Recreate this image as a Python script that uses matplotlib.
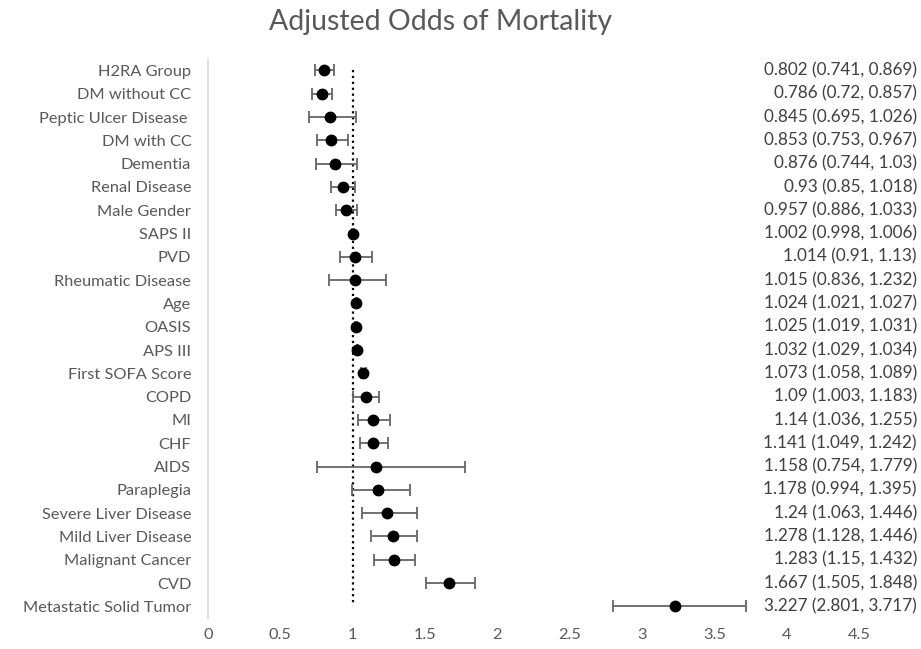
import matplotlib.pyplot as plt

# variaveis e odds ratios ajustados (IC 95%)
labels = ['H2RA Group', 'DM without CC', 'Peptic Ulcer Disease ', 'DM with CC', 'Dementia',
          'Renal Disease', 'Male Gender', 'SAPS II', 'PVD', 'Rheumatic Disease', 'Age',
          'OASIS', 'APS III', 'First SOFA Score', 'COPD', 'MI', 'CHF', 'AIDS', 'Paraplegia',
          'Severe Liver Disease', 'Mild Liver Disease', 'Malignant Cancer', 'CVD',
          'Metastatic Solid Tumor']
odds = [0.802, 0.786, 0.845, 0.853, 0.876, 0.93, 0.957, 1.002, 1.014, 1.015, 1.024,
        1.025, 1.032, 1.073, 1.09, 1.14, 1.141, 1.158, 1.178, 1.24, 1.278, 1.283,
        1.667, 3.227]
lower = [0.741, 0.72, 0.695, 0.753, 0.744, 0.85, 0.886, 0.998, 0.91, 0.836, 1.021,
         1.019, 1.029, 1.058, 1.003, 1.036, 1.049, 0.754, 0.994, 1.063, 1.128, 1.15,
         1.505, 2.801]
upper = [0.869, 0.857, 1.026, 0.967, 1.03, 1.018, 1.033, 1.006, 1.13, 1.232, 1.027,
         1.031, 1.034, 1.089, 1.183, 1.255, 1.242, 1.779, 1.395, 1.446, 1.446, 1.432,
         1.848, 3.717]
ci_text = ['0.802 (0.741, 0.869)', '0.786 (0.72, 0.857)', '0.845 (0.695, 1.026)',
           '0.853 (0.753, 0.967)', '0.876 (0.744, 1.03)', '0.93 (0.85, 1.018)',
           '0.957 (0.886, 1.033)', '1.002 (0.998, 1.006)', '1.014 (0.91, 1.13)',
           '1.015 (0.836, 1.232)', '1.024 (1.021, 1.027)', '1.025 (1.019, 1.031)',
           '1.032 (1.029, 1.034)', '1.073 (1.058, 1.089)', '1.09 (1.003, 1.183)',
           '1.14 (1.036, 1.255)', '1.141 (1.049, 1.242)', '1.158 (0.754, 1.779)',
           '1.178 (0.994, 1.395)', '1.24 (1.063, 1.446)', '1.278 (1.128, 1.446)',
           '1.283 (1.15, 1.432)', '1.667 (1.505, 1.848)', '3.227 (2.801, 3.717)']

plt.rcParams['font.family'] = ['Lato', 'DejaVu Sans']

y = list(range(len(labels)))
err = [[o - l for o, l in zip(odds, lower)], [u - o for o, u in zip(odds, upper)]]

fig = plt.figure(figsize=(9.21, 6.49), dpi=100)
ax = fig.add_axes([208 / 921, 1 - 618 / 649, (918 - 208) / 921, (618 - 60) / 649])

ax.plot([1] * len(y), y, linestyle=':', color='black', linewidth=1.6, zorder=1)
ax.errorbar(odds, y, xerr=err, fmt='o', color='black', markersize=7.5,
            ecolor='#666666', elinewidth=1.3, capsize=4, capthick=1.3, zorder=2)

for yi, t in zip(y, ci_text):
    ax.text(0.9985, yi, t, transform=ax.get_yaxis_transform(), ha='right', va='center',
            fontsize=12.3, color='#404040')

ax.set_xlim(0, (918 - 208) / 144.7)
ax.set_ylim(len(labels) - 0.5, -0.45)
ax.set_xticks([0, 0.5, 1, 1.5, 2, 2.5, 3, 3.5, 4, 4.5])
ax.set_xticklabels(['0', '0.5', '1', '1.5', '2', '2.5', '3', '3.5', '4', '4.5'])
ax.set_yticks(y)
ax.set_yticklabels(labels)
ax.tick_params(axis='both', length=0, labelsize=11.8, labelcolor='#595959')
ax.tick_params(axis='y', pad=12)
ax.tick_params(axis='x', pad=7)
for s in ['top', 'right', 'bottom']:
    ax.spines[s].set_visible(False)
ax.spines['left'].set_color('#d9d9d9')
ax.spines['left'].set_linewidth(1.2)

fig.text(441 / 921, 1 - 22 / 649, 'Adjusted Odds of Mortality', ha='center', va='center',
         fontsize=20.5, color='#595959')

plt.savefig('out.png')
